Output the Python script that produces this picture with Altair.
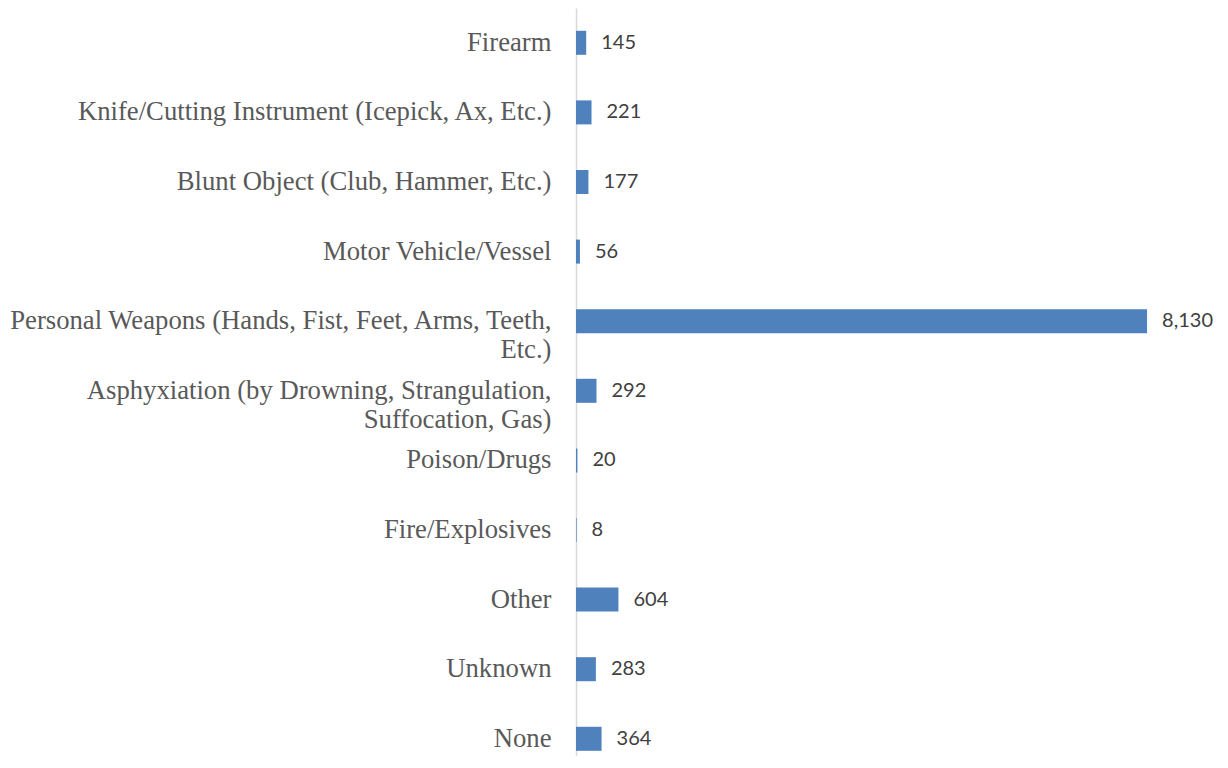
import altair as alt
import pandas as pd

categories = [
    "Firearm",
    "Knife/Cutting Instrument (Icepick, Ax, Etc.)",
    "Blunt Object (Club, Hammer, Etc.)",
    "Motor Vehicle/Vessel",
    "Personal Weapons (Hands, Fist, Feet, Arms, Teeth,|Etc.)",
    "Asphyxiation (by Drowning, Strangulation,|Suffocation, Gas)",
    "Poison/Drugs",
    "Fire/Explosives",
    "Other",
    "Unknown",
    "None",
]
values = [145, 221, 177, 56, 8130, 292, 20, 8, 604, 283, 364]

df = pd.DataFrame({"cat": categories, "val": values})

xscale = alt.Scale(domain=[0, 8542], nice=False, zero=True)
yscale = alt.Scale(paddingInner=0.655, paddingOuter=0.3275, range=[0, 765.6])

yenc = alt.Y(
    "cat:N",
    sort=None,
    scale=yscale,
    axis=alt.Axis(
        title=None,
        ticks=False,
        grid=False,
        domain=True,
        domainColor="#d9d9d9",
        domainWidth=1.5,
        labelFont="Liberation Serif",
        labelFontSize=26.7,
        labelColor="#595959",
        labelPadding=25,
        labelLimit=0,
        labelLineHeight=29,
        labelExpr="split(datum.label, '|')",
    ),
)

bars = alt.Chart(df).mark_bar(color="#4f81bd").encode(
    x=alt.X("val:Q", scale=xscale, axis=None),
    y=yenc,
)

labels = alt.Chart(df).mark_text(
    align="left", baseline="middle", dx=15, font="Lato", fontSize=20, color="#404040"
).encode(
    x=alt.X("val:Q", scale=xscale, axis=None),
    y=alt.Y("cat:N", sort=None, scale=yscale),
    text=alt.Text("val:Q", format=","),
)

chart = (
    alt.layer(bars, labels)
    .properties(
        width=600,
        height=748,
        autosize=alt.AutoSizeParams(type="none"),
        padding={"left": 568, "top": 0, "right": 44, "bottom": 0},
        view=alt.ViewBackground(stroke="transparent", strokeOpacity=0, strokeWidth=0),
    )
    .configure_view(stroke="transparent", strokeOpacity=0, strokeWidth=0)
    .configure(background="white")
)

chart.save("out.html", embed_options={"renderer": "svg", "actions": False})
